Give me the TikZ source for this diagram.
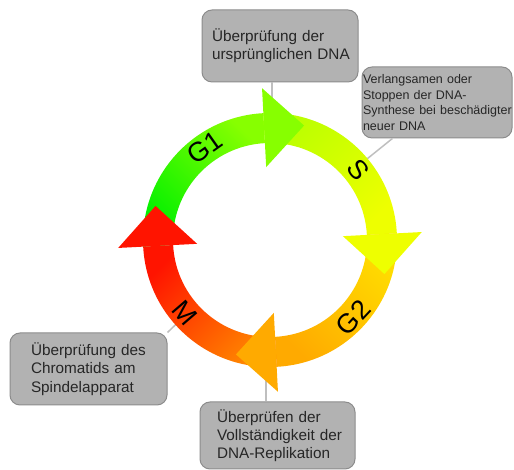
\documentclass[tikz,border=0pt]{standalone}
\usepackage{fontspec}
\setmainfont{Liberation Sans}
\usetikzlibrary{calc}
\definecolor{g1a}{RGB}{0,240,0}
\definecolor{g1b}{RGB}{135,255,0}
\definecolor{sa}{RGB}{185,255,0}
\definecolor{sb}{RGB}{238,255,0}
\definecolor{g2a}{RGB}{255,222,0}
\definecolor{g2b}{RGB}{255,170,0}
\definecolor{ma}{RGB}{255,135,0}
\definecolor{mb}{RGB}{255,20,0}
\tikzset{note/.style = {draw=gray!90, fill=gray!60, rounded corners=10pt,
                        line width=1pt, align=left, inner ysep=0pt,
                        text=black!85, font=\fontsize{15.3}{18.3}\selectfont}}
\tikzset{link/.style = {draw=gray!50, line width=1.5pt}}
\tikzset{phase/.style = {font=\fontsize{27}{30}\selectfont, inner sep=0pt}}

\begin{document}
\begin{tikzpicture}[x=1pt, y=1pt]
			\useasboundingbox (0,0) rectangle (514,470);
			\coordinate (O) at (270,230);
			% boxes
			\node [note, text width=136pt, inner xsep=10pt, minimum height=72pt] (bT) at (280,424) {Überprüfung der\\\mbox{ursprünglichen DNA}};
			\node [note, text width=148pt, inner xsep=1pt, minimum height=71pt, font=\fontsize{12.5}{15.5}\selectfont] (bS) at (437,367.5) {Verlangsamen oder\\Stoppen der DNA-\\\mbox{Synthese bei beschädigter}\\neuer DNA};
			\node [note, text width=115pt, inner xsep=21pt, minimum height=72pt] (bM) at (88.5,101) {\mbox{Überprüfung des}\\Chromatids am\\Spindelapparat};
			\node [note, text width=121pt, inner xsep=17pt, minimum height=67pt] (bB) at (277.5,34.5) {Überprüfen der\\\mbox{Vollständigkeit der}\\DNA-Replikation};
			% connectors
			\coordinate (cT) at (272,342);
			\coordinate (cS) at ($(O)+(40:112)$);
			\coordinate (cB) at (266,118);
			\coordinate (cM) at ($(O)+(221.6:112)$);
			\draw [link] (cT) to (cT |- bT.south);
			\draw [link] (cS) to (bS);
			\draw [link] (cB) to (cB |- bB.north);
			\draw [link] (cM) to (bM.north east);
			% ring
			\shade [top color=g1b, bottom color=g1a, shading angle=-45] ($(O)+(183:127)$) arc [start angle=183, end angle=93, radius=127] -- ($(O)+(93:97)$) arc [start angle=93, end angle=183, radius=97] -- cycle;
			\shade [top color=sb, bottom color=sa, shading angle=-135] ($(O)+(93:127)$) arc [start angle=93, end angle=3, radius=127] -- ($(O)+(3:97)$) arc [start angle=3, end angle=93, radius=97] -- cycle;
			\shade [top color=g2b, bottom color=g2a, shading angle=135] ($(O)+(3:127)$) arc [start angle=3, end angle=-87, radius=127] -- ($(O)+(-87:97)$) arc [start angle=-87, end angle=3, radius=97] -- cycle;
			\shade [top color=mb, bottom color=ma, shading angle=45] ($(O)+(-87:127)$) arc [start angle=-87, end angle=-177, radius=127] -- ($(O)+(-177:97)$) arc [start angle=-177, end angle=-87, radius=97] -- cycle;
			% arrow heads
			\fill [g1b] ($(O)+(93:152)$) -- ($(O)+(93:112.5)+(3:40)$) -- ($(O)+(93:73)$) -- cycle;
			\fill [sb] ($(O)+(3:152)$) -- ($(O)+(3:112.5)+(-87:40)$) -- ($(O)+(3:73)$) -- cycle;
			\fill [g2b] ($(O)+(-87:152)$) -- ($(O)+(-87:112.5)+(-177:40)$) -- ($(O)+(-87:73)$) -- cycle;
			\fill [mb] ($(O)+(183:152)$) -- ($(O)+(183:112.5)+(93:40)$) -- ($(O)+(183:73)$) -- cycle;
			% phases
			\node [phase, rotate=35.2] (lG1) at ($(O)+(125.2:112.6)$) {G1};
			\node [phase, rotate=-51.5] (lS) at ($(O)+(38.5:112.4)$) {S};
			\node [phase, rotate=47] (lG2) at ($(O)+(-43:114)$) {G2};
			\node [phase, rotate=-49.3] (lM) at ($(O)+(220.7:112)$) {M};
		\end{tikzpicture}
\end{document}
